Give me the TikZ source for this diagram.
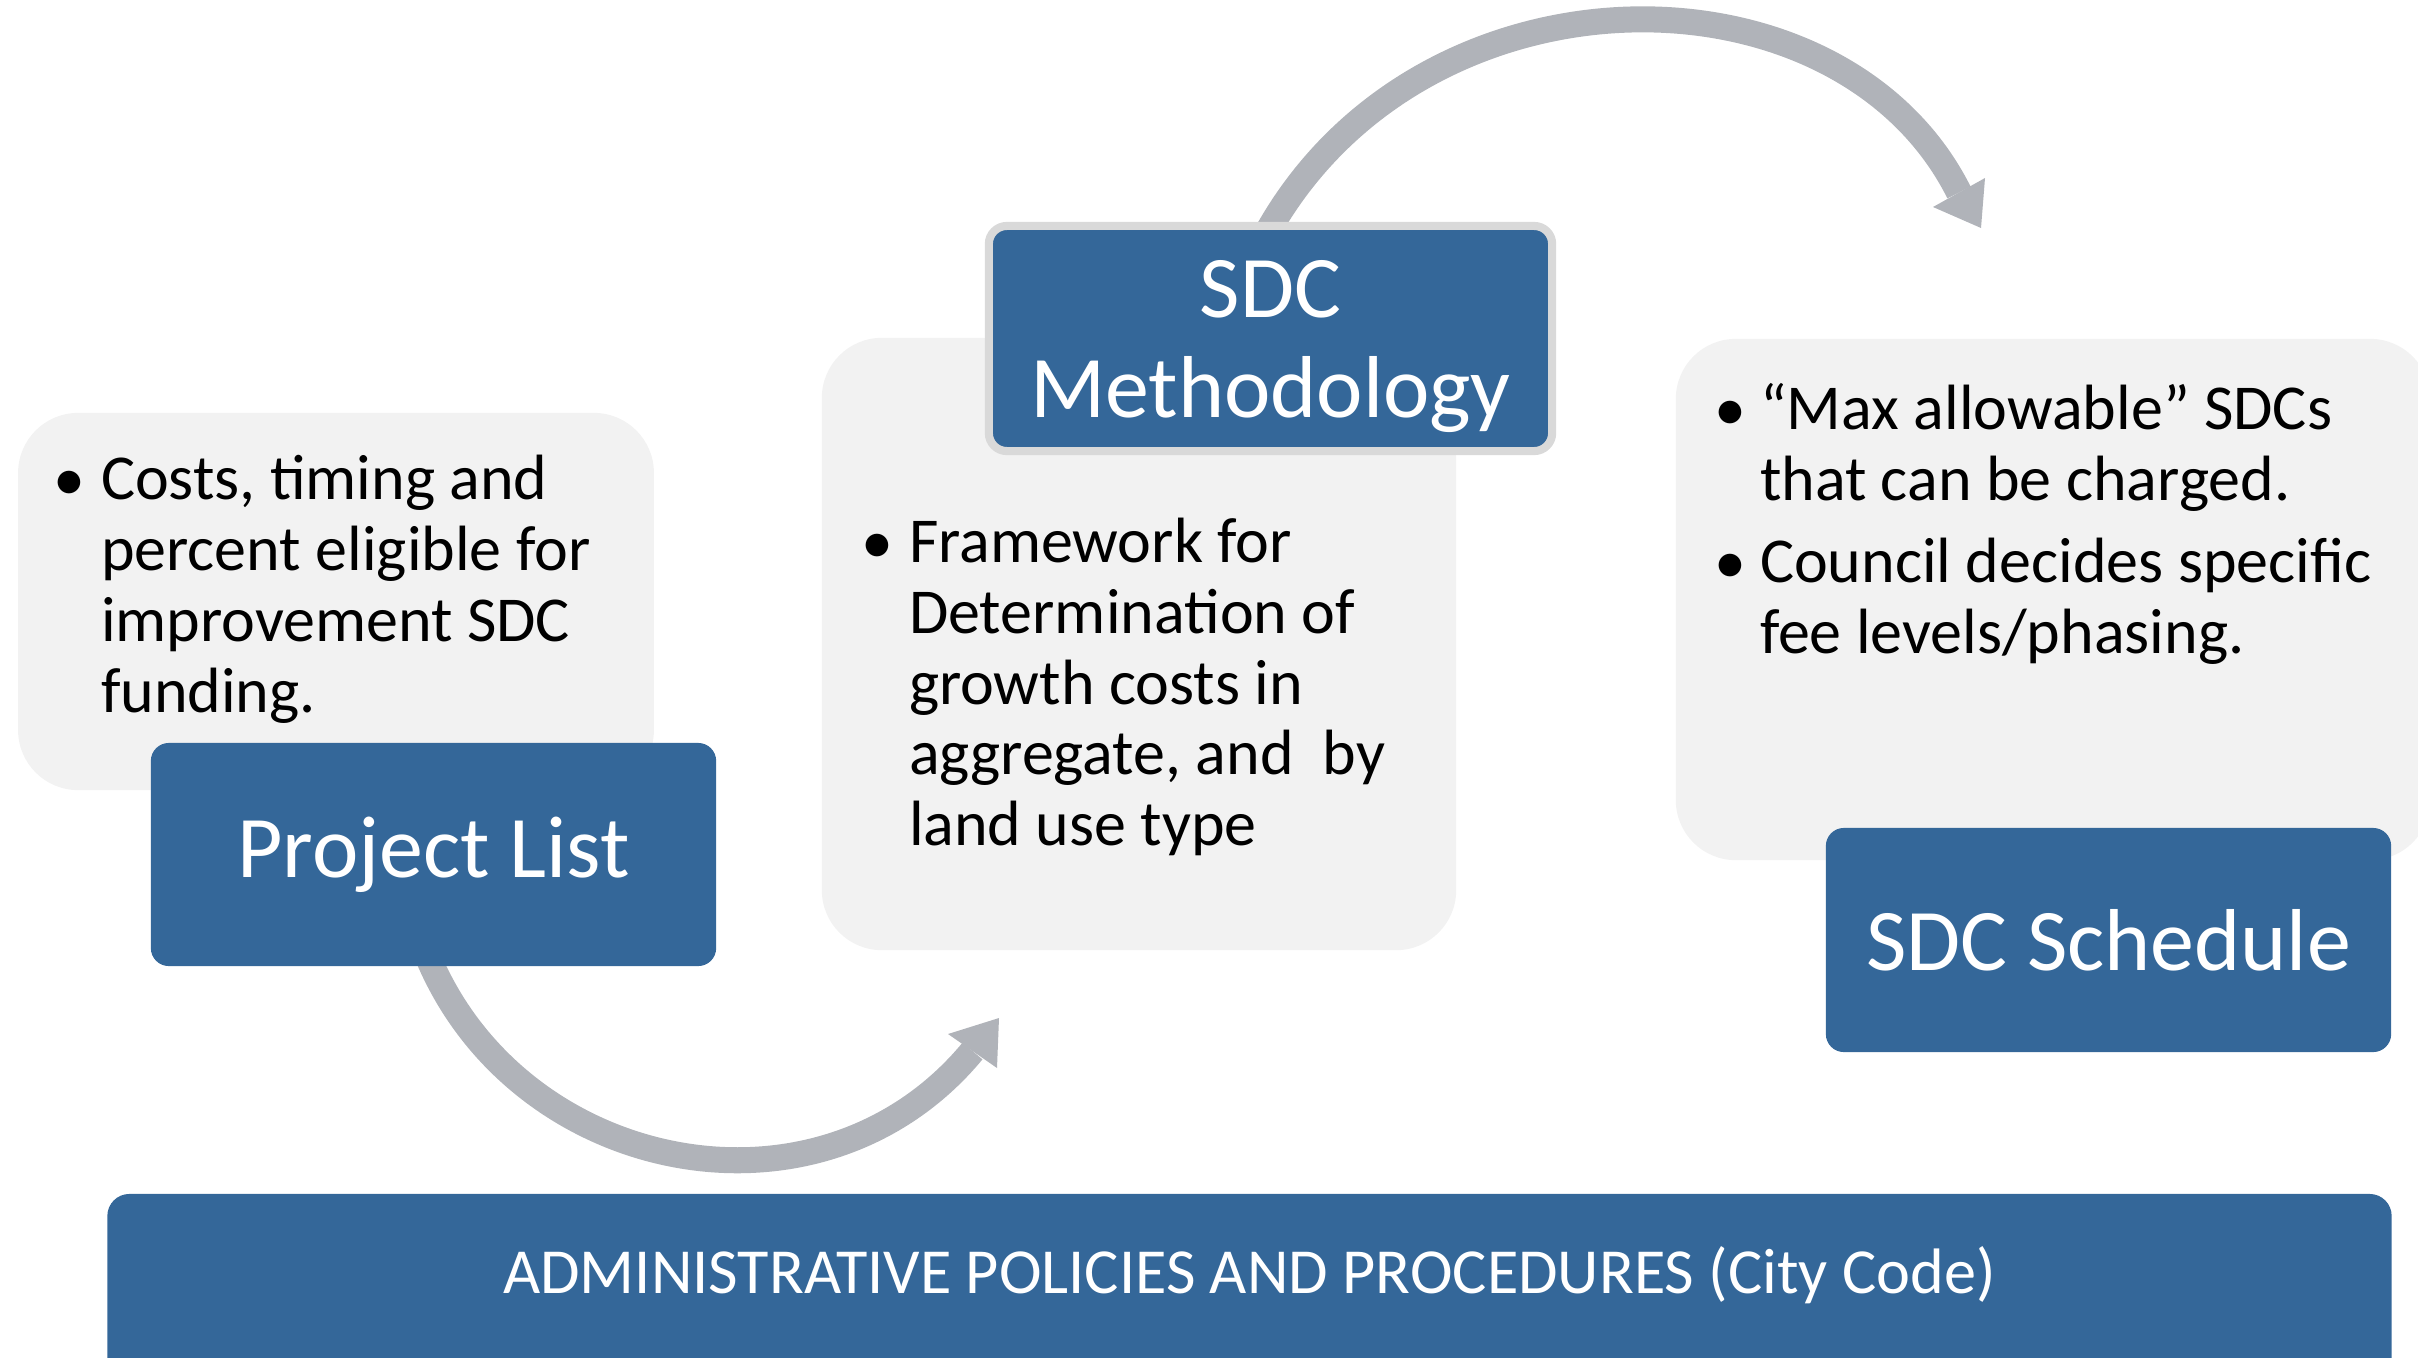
\documentclass[tikz,border=0pt]{standalone}
\usepackage{fontspec}
\setmainfont{Carlito}
\usetikzlibrary{backgrounds,calc}
\definecolor{sdcblue}{RGB}{52,103,153}
\definecolor{boxgray}{RGB}{242,242,242}
\definecolor{arcgray}{RGB}{176,179,185}
\definecolor{rimgray}{RGB}{217,217,217}
\begin{document}
\begin{tikzpicture}[x=0.01cm,y=-0.01cm,
  every node/.style={inner sep=0pt, outer sep=0pt},
  graybox/.style={fill=boxgray, rounded corners=0.6cm},
  bluebox/.style={fill=sdcblue, rounded corners=0.18cm, text=white,
    font=\fontsize{25pt}{28.5pt}\selectfont, align=center},
  bodytext/.style={anchor=base west, align=left, text=black,
    font=\fontsize{18.2pt}{20.1pt}\selectfont},
  bulletmark/.style={anchor=base, text=black, font=\fontsize{18.2pt}{20pt}\selectfont},
  arcband/.style={draw=arcgray, line width=7.4pt},
  arrowtip/.style={fill=arcgray, draw=none}
]
\useasboundingbox (0,0) rectangle (2418,1357);
\clip (0,0) rectangle (2418,1357);

% gray content boxes
\node[graybox, minimum width=6.355cm, minimum height=3.77cm] (g1) at (336,601.5) {};
\node[graybox, minimum width=6.34cm, minimum height=6.12cm] (g2) at (1139,644) {};
\node[graybox, minimum width=7.54cm, minimum height=5.21cm] (g3) at (2053,599.5) {};

% bullet texts (node base = baseline of the last line)
\node[bulletmark] (b1) at (69,500) {•};
\node[bodytext] (t1) at (101,712) {Costs, timing and\\percent eligible for\\improvement SDC\\funding.};

\node[bulletmark] (b2) at (877,563) {•};
\node[bodytext] (t2) at (909,845.6) {Framework for\\Determination of\\growth costs in\\aggregate, and~ by\\land use type};

\node[bulletmark] (b3) at (1730,430) {•};
\node[bodytext] (t3) at (1760,500.6) {“Max allowable” SDCs\\that can be charged.};
\node[bulletmark] (b4) at (1730,583) {•};
\node[bodytext] (t4) at (1760,653.6) {Council decides specific\\fee levels/phasing.};

% blue title boxes
\node[bluebox, minimum width=5.65cm, minimum height=2.23cm] (pl) at (433.5,854.5) {Project List};
\node[bluebox, draw=rimgray, line width=2.3pt, minimum width=5.63cm, minimum height=2.25cm] (meth) at (1270.5,338.5) {\rule{0pt}{20.7pt}SDC\\Methodology};
\node[bluebox, minimum width=5.65cm, minimum height=2.24cm] (sched) at (2108.5,940) {SDC Schedule};

% bottom bar
\node[fill=sdcblue, rounded corners=0.22cm, minimum width=22.83cm, minimum height=2.3cm] (bar) at (1249.5,1309) {};
\node[text=white, font=\fontsize{18.27pt}{20pt}\selectfont] (admin) at (1249.5,1275) {ADMINISTRATIVE POLICIES AND PROCEDURES (City Code)};

% curved arrows
\coordinate (topend) at (1959,192.5);
\coordinate (botend) at (972.5,1051);
\begin{scope}[on background layer]
  \draw[arcband] ($(meth.north)+(-4.6,8.9)$) .. controls (1420,-45) and (1840,-45) .. (topend);
  \fill[arrowtip] (1933,207) -- (1981,228) -- (1985,178) -- cycle;
  \draw[arcband] ($(pl.south)+(-5.2,-8.5)$) .. controls (520,1175) and (820,1235) .. (botend);
  \fill[arrowtip] (948,1034) -- (999,1018) -- (997,1068) -- cycle;
\end{scope}
\end{tikzpicture}
\end{document}
